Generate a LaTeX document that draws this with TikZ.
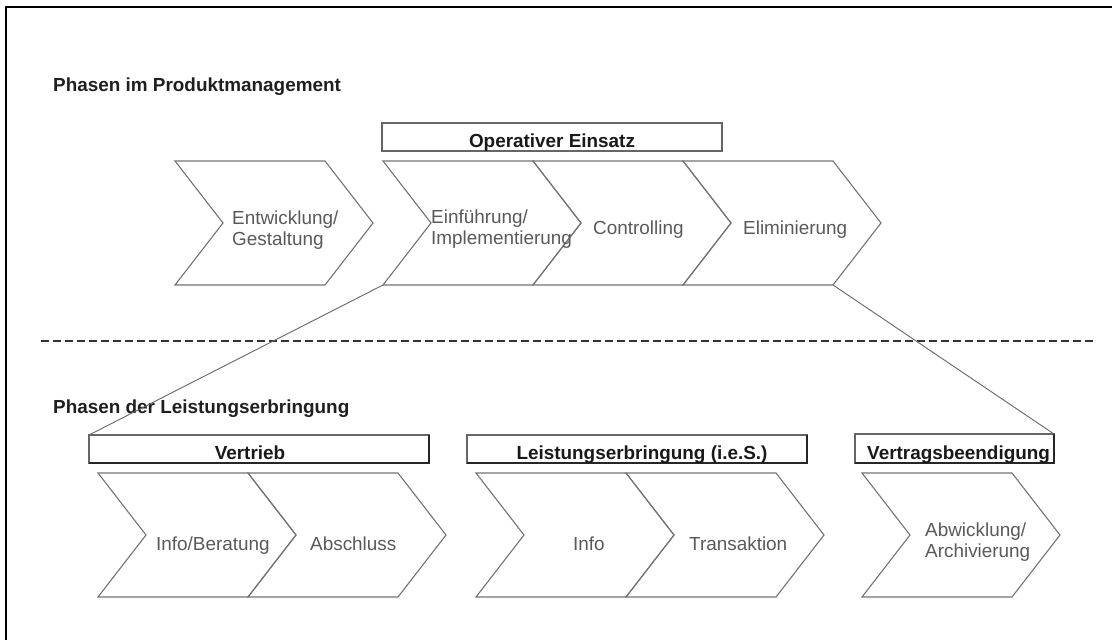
\documentclass[tikz,border=0pt]{standalone}
\usepackage{fontspec}
\setmainfont{Liberation Sans}
\begin{document}
\begin{tikzpicture}[x=1pt,y=-1pt,
  chevline/.style={draw=black!55, line width=1.1pt, line join=miter},
  pics/chevron/.style={code={
    \path[chevline] (0,0) coordinate (-nw) -- (150,0) coordinate (-ne)
      -- (198,62) coordinate (-tip) -- (150,124) coordinate (-se)
      -- (0,124) coordinate (-sw) -- (48,62) coordinate (-notch) -- cycle;
  }},
  phasebox/.style={draw=black!60, line width=1.2pt, inner sep=0pt, outer sep=0pt, anchor=north west},
  boxedge/.style={draw=black!85, line width=1.6pt},
  boxlabel/.style={inner sep=0pt, anchor=base, font=\fontsize{18.9pt}{21pt}\selectfont\bfseries, text=black!90},
  headline/.style={inner sep=0pt, anchor=base west, font=\fontsize{18.9pt}{21pt}\selectfont\bfseries, text=black!88},
  steptext/.style={inner sep=0pt, anchor=base west, align=left, font=\fontsize{18.9pt}{21pt}\selectfont, text=black!65},
  link/.style={draw=black!60, line width=0.9pt},
  divider/.style={draw=black!80, line width=1.5pt, dash pattern=on 8pt off 4pt}
]
\useasboundingbox (0,0) rectangle (1112,640);

% outer frame
\draw[line width=2.2pt] (1112,7) -- (6,7) -- (6,640);

% ---------- product management phases ----------
\node[headline] (hpm) at (53,91) {Phasen im Produktmanagement};

\node[phasebox, minimum width=340pt, minimum height=28pt] (opbox) at (382,123) {};
\node[boxlabel] (optxt) at (552,147) {Operativer Einsatz};

\pic (ent) at (175,161) {chevron};
\pic (ein) at (383,161) {chevron};
\pic (con) at (533,161) {chevron};
\pic (eli) at (683,161) {chevron};

% two-line labels: the base anchor sits on the last line
\node[steptext] (entxt) at (232,245) {Entwicklung/\\Gestaltung};
\node[steptext] (eintxt) at (431,244) {Einführung/\\Implementierung};
\node[steptext] (contxt) at (593,234) {Controlling};
\node[steptext] (elitxt) at (743,234) {Eliminierung};

% ---------- divider ----------
\coordinate (dl) at (41,341);
\coordinate (dr) at (1095,341);
\draw[divider] (dl) -- (dr);

% ---------- service delivery phases ----------
\node[headline] (hle) at (53,413) {Phasen der Leistungserbringung};

\node[phasebox, minimum width=340pt, minimum height=28pt] (vbox) at (89,435) {};
\node[phasebox, minimum width=340pt, minimum height=28pt] (lbox) at (467,435) {};
\node[phasebox, minimum width=199pt, minimum height=29pt] (bbox) at (855,434) {};
\foreach \b in {vbox,lbox,bbox}
  \draw[boxedge] (\b.north east) -- (\b.south east) -- (\b.south west);

\node[boxlabel] (vtxt) at (250,459) {Vertrieb};
\node[boxlabel] (ltxt) at (642,459) {Leistungserbringung (i.e.S.)};
\node[boxlabel, anchor=base west] (btxt) at (867,459) {Vertragsbeendigung};

\pic (inf) at (98,473) {chevron};
\pic (abs) at (248,473) {chevron};
\pic (ifo) at (476,473) {chevron};
\pic (tra) at (626,473) {chevron};
\pic (abw) at (862,473) {chevron};

\node[steptext] (inftxt) at (156,550) {Info/Beratung};
\node[steptext] (abstxt) at (310,550) {Abschluss};
\node[steptext] (ifotxt) at (573,550) {Info};
\node[steptext] (tratxt) at (689,550) {Transaktion};
\node[steptext] (abwtxt) at (925,557) {Abwicklung/\\Archivierung};

% ---------- links between the two levels ----------
\draw[link] (ein-sw) -- (vbox.north west);
\draw[link] (eli-se) -- (bbox.north east);
\end{tikzpicture}
\end{document}
